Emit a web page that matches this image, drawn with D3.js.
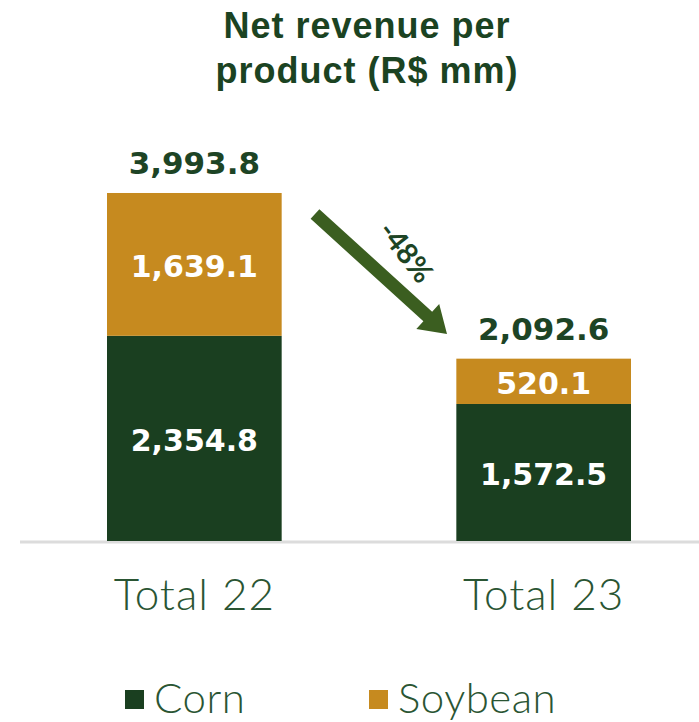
<!DOCTYPE html>
<html>
<head>
<meta charset="utf-8">
<script src="https://cdn.jsdelivr.net/npm/d3@7"></script>
<style>
  html, body { margin: 0; padding: 0; background: #ffffff; }
  svg { display: block; }
</style>
</head>
<body>
<div id="chart"></div>
<script>
// Net revenue per product, stacked by crop (R$ mm)
const categories = ["Total 22", "Total 23"];
const cornValues = [2354.8, 1572.5];
const soybeanValues = [1639.1, 520.1];
const totalValues = [3993.8, 2092.6];
const seriesNames = ["Corn", "Soybean"];
const changeLabel = "-48%";
const titleLines = ["Net revenue per", "product (R$ mm)"];

const W = 699, H = 722;
const colors = { Corn: "#1a3f20", Soybean: "#c68a1f" };
const darkText = "#1d4425";
const labelFont = "'DejaVu Sans', Verdana, sans-serif";

const svg = d3.select("#chart").append("svg")
  .attr("width", W).attr("height", H);

const baseline = 541;
const x = d3.scaleBand().domain(categories).range([107, 631]).paddingInner(0.5).paddingOuter(0);
const y = d3.scaleLinear().domain([0, d3.max(totalValues)]).range([baseline, 193]);

const rows = categories.map((c, i) => ({ cat: c, Corn: cornValues[i], Soybean: soybeanValues[i], total: totalValues[i] }));
const stack = d3.stack().keys(seriesNames)(rows);

// Title
svg.append("g").selectAll("text").data(titleLines).join("text")
  .attr("x", 367).attr("y", (d, i) => 38 + i * 45)
  .attr("text-anchor", "middle")
  .attr("font-family", "'Liberation Sans', Arial, sans-serif")
  .attr("font-weight", "bold").attr("font-size", 36)
  .attr("letter-spacing", 1)
  .attr("fill", "#1b4322")
  .text(d => d);

// Baseline
svg.append("line")
  .attr("x1", 20).attr("x2", W).attr("y1", baseline + 1).attr("y2", baseline + 1)
  .attr("stroke", "#dcdcdc").attr("stroke-width", 3);

// Stacked bars
const layers = svg.append("g").selectAll("g").data(stack).join("g")
  .attr("fill", d => colors[d.key]);
layers.selectAll("rect").data(d => d).join("rect")
  .attr("x", d => x(d.data.cat))
  .attr("width", x.bandwidth())
  .attr("y", d => y(d[1]))
  .attr("height", d => y(d[0]) - y(d[1]));

// Segment value labels
const fmt = d3.format(",.1f");
layers.selectAll("text").data(d => d).join("text")
  .attr("x", d => x(d.data.cat) + x.bandwidth() / 2)
  .attr("y", d => (y(d[0]) + y(d[1])) / 2 + 13)
  .attr("text-anchor", "middle")
  .attr("font-family", labelFont)
  .attr("font-weight", "bold").attr("font-size", 30)
  .attr("fill", "#ffffff")
  .text(d => fmt(d[1] - d[0]));

// Totals above bars
svg.append("g").selectAll("text").data(rows).join("text")
  .attr("x", d => x(d.cat) + x.bandwidth() / 2)
  .attr("y", d => y(d.total) - 19)
  .attr("text-anchor", "middle")
  .attr("font-family", labelFont)
  .attr("font-weight", "bold").attr("font-size", 31)
  .attr("fill", darkText)
  .text(d => fmt(d.total));

// Category axis labels
svg.append("g").selectAll("text").data(categories).join("text")
  .attr("x", d => x(d) + x.bandwidth() / 2)
  .attr("y", 610)
  .attr("text-anchor", "middle")
  .attr("font-family", "Lato, sans-serif")
  .attr("font-weight", 300).attr("font-size", 44)
  .attr("letter-spacing", 1)
  .attr("fill", "#2a5533")
  .text(d => d);

// Change arrow between the two totals
const arrowColor = "#3b5e20";
const tail = [315, 214], tip = [447, 334];
const ang = Math.atan2(tip[1] - tail[1], tip[0] - tail[0]);
const len = Math.hypot(tip[0] - tail[0], tip[1] - tail[1]);
const shaftW = 13, headW = 34, headL = 26;
const arrowPath = d3.path();
arrowPath.moveTo(0, -shaftW / 2);
arrowPath.lineTo(len - headL, -shaftW / 2);
arrowPath.lineTo(len - headL, -headW / 2);
arrowPath.lineTo(len, 0);
arrowPath.lineTo(len - headL, headW / 2);
arrowPath.lineTo(len - headL, shaftW / 2);
arrowPath.lineTo(0, shaftW / 2);
arrowPath.closePath();
svg.append("path")
  .attr("d", arrowPath.toString())
  .attr("transform", `translate(${tail[0]},${tail[1]}) rotate(${ang * 180 / Math.PI})`)
  .attr("fill", arrowColor);

svg.append("text")
  .attr("transform", `translate(406,252) rotate(52)`)
  .attr("text-anchor", "middle").attr("dy", "0.35em")
  .attr("font-family", "Lato, sans-serif")
  .attr("font-weight", "bold")
  .attr("font-size", 29)
  .attr("fill", darkText)
  .text(changeLabel);

// Legend
const legendX = [125, 369];
const legend = svg.append("g").selectAll("g").data(seriesNames).join("g")
  .attr("transform", (d, i) => `translate(${legendX[i]},690)`);
legend.append("rect")
  .attr("width", 19).attr("height", 19)
  .attr("fill", d => colors[d]);
legend.append("text")
  .attr("x", 29).attr("y", 23)
  .attr("font-family", "Lato, sans-serif")
  .attr("font-weight", 300).attr("font-size", 42)
  .attr("letter-spacing", 0.5)
  .attr("fill", "#2a5533")
  .text(d => d);
</script>
</body>
</html>
